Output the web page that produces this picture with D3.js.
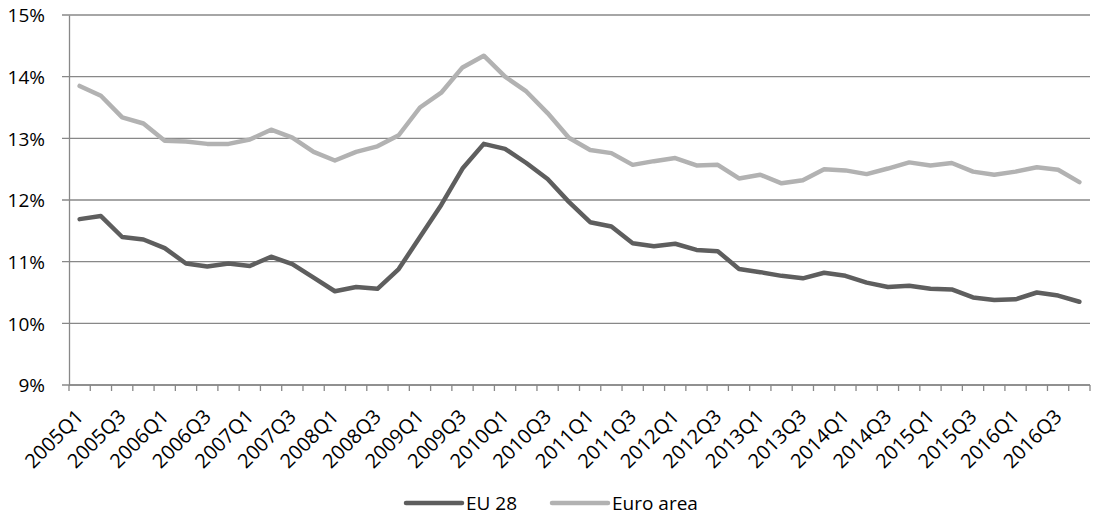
<!DOCTYPE html>
<html>
<head>
<meta charset="utf-8">
<script src="https://cdn.jsdelivr.net/npm/d3@7"></script>
<style>
  body { margin: 0; background: #fff; }
  svg text { font-family: "Open Sans", Lato, sans-serif; fill: #000; }
</style>
</head>
<body>
<svg id="chart" width="1093" height="515"></svg>
<script>
// quarters 2005Q1 .. 2016Q4
const years = d3.range(2005, 2017);
const quarters = [];
years.forEach(y => [1, 2, 3, 4].forEach(q => quarters.push(y + "Q" + q)));

const eu28 = [11.69, 11.74, 11.40, 11.36, 11.22, 10.97, 10.92, 10.97, 10.93, 11.08, 10.96, 10.74,
    10.52, 10.59, 10.56, 10.88, 11.40, 11.92, 12.51, 12.91, 12.83, 12.60, 12.34, 11.97,
    11.64, 11.57, 11.30, 11.25, 11.29, 11.19, 11.17, 10.88, 10.83, 10.77, 10.73, 10.82,
    10.77, 10.66, 10.59, 10.61, 10.56, 10.55, 10.42, 10.38, 10.39, 10.50, 10.45, 10.35];

const euroArea = [13.85, 13.69, 13.34, 13.24, 12.96, 12.95, 12.91, 12.91, 12.98, 13.14, 13.01, 12.78,
    12.64, 12.78, 12.87, 13.05, 13.50, 13.74, 14.15, 14.34, 14.00, 13.76, 13.41, 13.01,
    12.81, 12.76, 12.57, 12.63, 12.68, 12.56, 12.57, 12.35, 12.41, 12.27, 12.32, 12.50,
    12.48, 12.42, 12.51, 12.61, 12.56, 12.60, 12.46, 12.41, 12.46, 12.53, 12.49, 12.29];

const seriesNames = ["EU 28", "Euro area"];
const seriesColors = ["#5e5e5e", "#b2b2b2"];

var svg = d3.select("#chart");
var margin = { top: 15, right: 3, bottom: 130, left: 69 };
const width = 1093 - margin.left - margin.right;
const height = 515 - margin.top - margin.bottom;

var g = svg.append("g").attr("transform", "translate(" + margin.left + "," + margin.top + ")");

var x = d3.scaleBand().domain(quarters).range([0, width]);
var y = d3.scaleLinear().domain([9, 15]).range([height, 0]);

// gridlines
g.append("g")
    .selectAll("line")
    .data(y.ticks(6))
    .enter()
    .append("line")
    .attr("x1", -7)
    .attr("x2", width)
    .attr("y1", d => y(d))
    .attr("y2", d => y(d))
    .attr("stroke", "#888888")
    .attr("stroke-width", 1.3);

// y axis
var yAxis = g.append("g")
    .call(d3.axisLeft(y).ticks(6).tickSize(0).tickPadding(24).tickFormat(d => d + "%"));
yAxis.select(".domain").attr("stroke", "#888888").attr("stroke-width", 1.3);
yAxis.selectAll("text").style("font-size", "19px").attr("dy", "0.36em");

// x axis
var xAxis = g.append("g")
    .attr("transform", "translate(0," + height + ")");
xAxis.append("line")
    .attr("x1", 0).attr("x2", width)
    .attr("stroke", "#888888").attr("stroke-width", 1.3);
xAxis.selectAll(".tk")
    .data(quarters.concat(["end"]))
    .enter()
    .append("line")
    .attr("x1", (d, i) => i * x.step())
    .attr("x2", (d, i) => i * x.step())
    .attr("y1", 0).attr("y2", 6)
    .attr("stroke", "#888888").attr("stroke-width", 1.3);

xAxis.selectAll(".lbl")
    .data(quarters.filter((q, i) => i % 2 === 0))
    .enter()
    .append("text")
    .attr("text-anchor", "end")
    .style("font-size", "20px")
    .attr("transform", d => "translate(" + (x(d) + x.bandwidth() / 2 + 5) + ",33) rotate(-45)")
    .text(d => d);

// lines
var line = d3.line()
    .x((d, i) => x(quarters[i]) + x.bandwidth() / 2)
    .y(d => y(d));

[eu28, euroArea].forEach((s, k) => {
    g.append("path")
        .datum(s)
        .attr("fill", "none")
        .attr("stroke", seriesColors[k])
        .attr("stroke-width", 4.5)
        .attr("stroke-linejoin", "round")
        .attr("stroke-linecap", "round")
        .attr("d", line);
});

// legend
var legend = svg.append("g").attr("transform", "translate(0,503)");
var legX = [406, 552];
seriesNames.forEach((n, k) => {
    legend.append("line")
        .attr("x1", legX[k]).attr("x2", legX[k] + 56)
        .attr("stroke", seriesColors[k])
        .attr("stroke-width", 4.5)
        .attr("stroke-linecap", "round");
    legend.append("text")
        .attr("x", legX[k] + 60)
        .attr("dy", "0.36em")
        .style("font-size", "19px")
        .text(n);
});
</script>
</body>
</html>
